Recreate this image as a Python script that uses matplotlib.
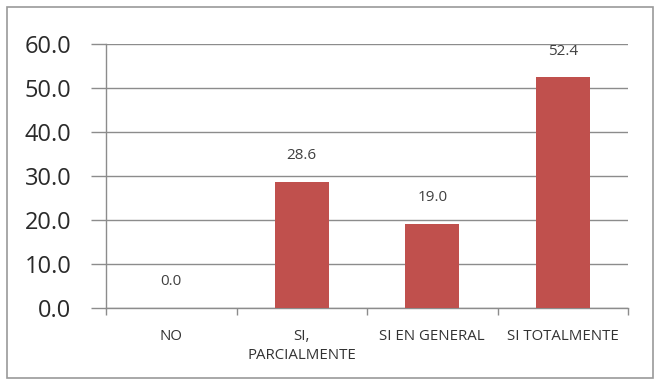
import matplotlib
matplotlib.use('Agg')
import matplotlib.pyplot as plt
from matplotlib.patches import Rectangle
import numpy as np

categories = ['NO', 'SI,\nPARCIALMENTE', 'SI EN GENERAL', 'SI TOTALMENTE']
values = [0.0, 28.6, 19.0, 52.4]
yticks = [0, 10, 20, 30, 40, 50, 60]

plt.rcParams['font.family'] = ['Open Sans', 'DejaVu Sans']

fig = plt.figure(figsize=(6.6, 3.85), dpi=100)
ax = fig.add_axes([106/660, 1-308/385, (628-106)/660, (308-44)/385])

# outer frame
fig.patches.append(Rectangle((7/660, 7/385), 646/660, 371/385, transform=fig.transFigure,
                             fill=False, edgecolor='#9a9a9a', linewidth=1.2))

x = np.arange(len(categories))
bar_color = '#C0504D'
ax.bar(x, values, width=0.41, color=bar_color, zorder=3)
for xi, v in zip(x, values):
    ax.text(xi, v + 4.3, f'{v:.1f}', ha='center', va='bottom', fontsize=11, color='#404040')

ax.set_xlim(-0.5, len(categories) - 0.5)
ax.set_ylim(0, 60)
ax.set_yticks(yticks)
ax.set_yticklabels([f'{t:.1f}' for t in yticks], fontsize=17, color='#2a2a2a')
ax.yaxis.grid(True, color='#8c8c8c', linewidth=1.0, zorder=0)
ax.tick_params(axis='y', length=11, width=1.0, color='#8c8c8c', pad=14)

ax.set_xticks(x)
ax.set_xticklabels(categories, fontsize=10.8, color='#333333', linespacing=1.35, va='top')
ax.set_xticks(np.arange(len(categories) + 1) - 0.5, minor=True)
ax.tick_params(axis='x', which='major', length=0, pad=15)
ax.tick_params(axis='x', which='minor', length=5, width=1.0, color='#8c8c8c', direction='out')

for s in ['top', 'right']:
    ax.spines[s].set_visible(False)
for s in ['left', 'bottom']:
    ax.spines[s].set_color('#8c8c8c')
    ax.spines[s].set_linewidth(1.0)

fig.savefig('out.png', dpi=100)
